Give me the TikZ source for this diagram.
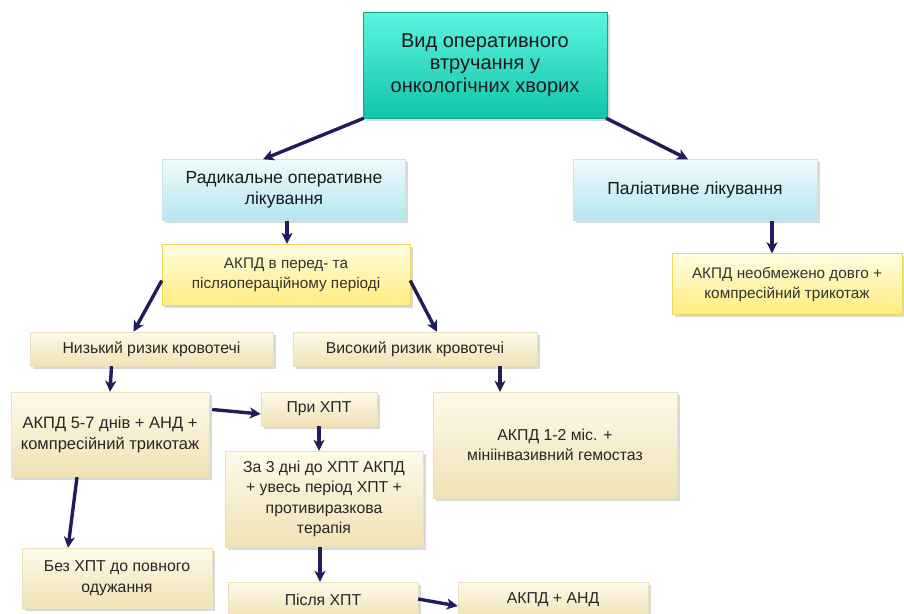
\documentclass[tikz,border=0pt]{standalone}
\usepackage{fontspec}
\setmainfont{Liberation Sans}
\usepackage{xcolor}
\usetikzlibrary{arrows.meta, shadows}

\definecolor{arrowblue}{HTML}{201D5C}
\definecolor{tealtop}{HTML}{5CF4DE}
\definecolor{tealbot}{HTML}{12C4AC}
\definecolor{tealedge}{HTML}{0FA88F}
\definecolor{bluetop}{HTML}{F0FBFD}
\definecolor{bluebot}{HTML}{B3E5EE}
\definecolor{yellowtop}{HTML}{FFFDE2}
\definecolor{yellowbot}{HTML}{FFEC7E}
\definecolor{yellowedge}{HTML}{EED65A}
\definecolor{creamtop}{HTML}{FEFAEA}
\definecolor{creambot}{HTML}{F0E2B4}
\definecolor{creamedge}{HTML}{EAE0BE}

\begin{document}
\begin{tikzpicture}[x=1pt, y=-1pt,
		box/.style={rectangle, align=center, inner sep=2pt,
			drop shadow={opacity=0.3, shadow xshift=2.5pt, shadow yshift=-2.5pt}},
		topbox/.style={box, top color=tealtop, bottom color=tealbot, draw=tealedge,
			minimum width=244pt, minimum height=106pt, font=\fontsize{20}{22.5}\selectfont, text=black!90},
		bluebox/.style={box, top color=bluetop, bottom color=bluebot, draw=bluebot!80!gray!60,
			minimum width=243pt, minimum height=61pt, font=\fontsize{17.5}{21.5}\selectfont, text=black!90},
		yellowbox/.style={box, top color=yellowtop, bottom color=yellowbot, draw=yellowedge,
			minimum height=61pt, font=\fontsize{15.3}{20}\selectfont, text=black!80},
		creambox/.style={box, top color=creamtop, bottom color=creambot, draw=creamedge,
			font=\fontsize{15.8}{20.5}\selectfont, text=black!85},
		link/.style={-{Stealth[length=11pt, width=11pt, inset=3pt]}, line width=3.4pt, arrowblue}
		]
		\useasboundingbox (0,0) rectangle (904,613);
		
		% Top
		\node[topbox] (top) at (485,65) {Вид оперативного\\втручання у\\онкологічних хворих};
		
		% Second row
		\node[bluebox] (rad) at (284,190) {Радикальне оперативне\\лікування};
		\node[bluebox, minimum width=244pt] (pal) at (695,190) {Паліативне лікування};
		
		% Yellow boxes
		\node[yellowbox, minimum width=248pt] (periop) at (286,274.5) {АКПД в перед- та\\післяопераційному періоді};
		\node[yellowbox, minimum width=230pt] (unlim) at (787,284) {АКПД необмежено довго +\\компресійний трикотаж};
		
		% Risk
		\node[creambox, minimum width=243pt, minimum height=34pt] (low) at (151.5,349) {Низький ризик кровотечі};
		\node[creambox, minimum width=244pt, minimum height=34pt] (high) at (415,349) {Високий ризик кровотечі};
		
		% Low risk branch
		\node[creambox, minimum width=198pt, minimum height=85pt, font=\fontsize{16.5}{21}\selectfont] (short) at (110,434.5) {АКПД 5-7 днів + АНД +\\компресійний трикотаж};
		\node[creambox, minimum width=116pt, minimum height=34pt] (chemo) at (319,409) {При ХПТ};
		\node[creambox, minimum width=198pt, minimum height=96pt] (before) at (324,499) {За 3 дні до ХПТ АКПД\\+ увесь період ХПТ +\\противиразкова\\терапія};
		\node[creambox, minimum width=190pt, minimum height=60pt] (nochemo) at (117,578) {Без ХПТ до повного\\одужання};
		\node[creambox, minimum width=190pt, minimum height=36pt] (after) at (323,600) {Після ХПТ};
		\node[creambox, minimum width=190pt, minimum height=36pt] (andnode) at (553,600) {АКПД + АНД};
		
		% High risk branch
		\node[creambox, minimum width=244pt, minimum height=106pt] (long) at (555,445) {АКПД 1-2 міс. +\\мініінвазивний гемостаз};
		
		% Arrows
		\draw[link] ([xshift=1pt]top.south west) -- ([xshift=-21pt]rad.north);
		\draw[link] ([xshift=-1pt]top.south east) -- ([xshift=-7pt]pal.north);
		\draw[link] ([xshift=3pt]rad.south) -- ([xshift=1pt]periop.north);
		\draw[link] ([yshift=-6pt]periop.west) -- ([xshift=-18pt]low.north);
		\draw[link] ([yshift=-6pt]periop.east) -- ([xshift=22pt]high.north);
		\draw[link] ([xshift=77pt]pal.south) -- ([xshift=-15pt]unlim.north);
		\draw[link] ([xshift=-40pt]low.south) -- (short.north);
		\draw[link] ([xshift=3pt, yshift=25pt]short.east) -- ([yshift=-5pt]chemo.west);
		\draw[link] (chemo.south) -- (chemo.south |- before.north);
		\draw[link] ([xshift=-33pt]short.south) -- ([xshift=-49pt]nochemo.north);
		\draw[link] ([xshift=85pt]high.south) -- ([xshift=-55pt]long.north);
		\draw[link] ([xshift=-4pt]before.south) -- ([xshift=-4pt]before.south |- after.north);
		\draw[link] ([yshift=1pt]after.east) -- ([yshift=-6pt]andnode.west);
		
	\end{tikzpicture}
\end{document}
